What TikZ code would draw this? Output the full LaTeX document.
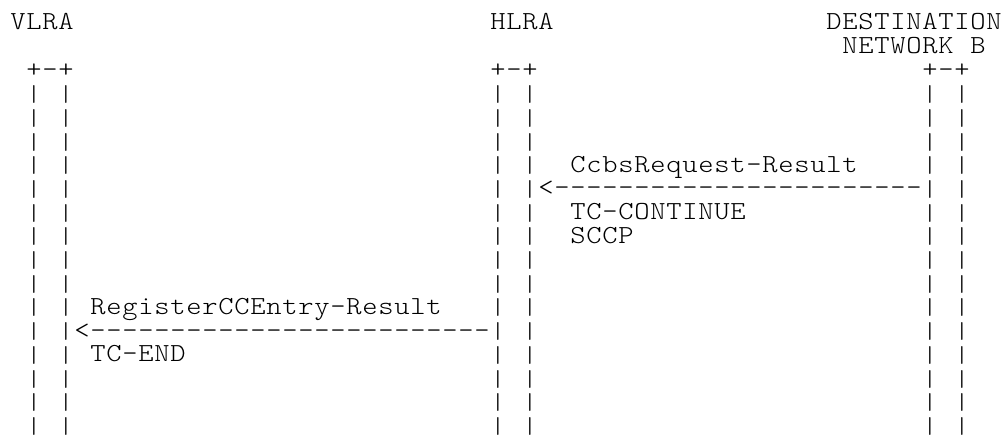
\documentclass[tikz,border=0pt]{standalone}
\usepackage{fontspec}
\usepackage{graphicx}
\newfontfamily\asciifont{lmmonolt10-regular.otf}
\ExplSyntaxOn
\NewDocumentCommand\cells{m}{\tl_map_inline:nn{#1}{\makebox[16pt]{\scalebox{1.12}[1]{##1}}}}
\ExplSyntaxOff
\newcommand\vbar{\makebox[16pt]{\resizebox*{\width}{18pt}{|}}}
\begin{document}
\begin{tikzpicture}[x=1pt,y=1pt,
  txt/.style={font=\asciifont\fontsize{26pt}{26pt}\selectfont,
    inner sep=0pt, outer sep=0pt, anchor=base west, text=black},
  bar/.style={txt, anchor=south west}]
\def\cw{16}
\def\lh{23.7}
\useasboundingbox (0,0) rectangle (1005,438);
% headers
\node[txt] (vlra)  at ({10+\cw*0},{408-\lh*0}) {\cells{VLRA}};
\node[txt] (hlra)  at ({10+\cw*30},{408-\lh*0}) {\cells{HLRA}};
\node[txt] (dest)  at ({10+\cw*51},{408-\lh*0}) {\cells{DESTINATION}};
\node[txt] (destb) at ({10+\cw*52},{408-\lh*1}) {\cells{NETWORK~B}};
% tops of lifelines
\node[txt] (topv) at ({10+\cw*1},{408-\lh*2}) {\cells{+-+}};
\node[txt] (toph) at ({10+\cw*30},{408-\lh*2}) {\cells{+-+}};
\node[txt] (topd) at ({10+\cw*57},{408-\lh*2}) {\cells{+-+}};
% lifelines
\foreach \r in {3,...,17}{
  \foreach \c in {1,3,30,32,57,59}{
    \node[bar] (l-\c-\r) at ({10+\cw*\c},{408-\lh*\r-2.5}) {\vbar};
  }
}
% message 1
\node[txt] (m1)  at ({10+\cw*35},{408-\lh*6}) {\cells{CcbsRequest-Result}};
\node[txt] (a1)  at ({10+\cw*33},{408-\lh*7}) {\cells{<-----------------------}};
\node[txt] (m1b) at ({10+\cw*35},{408-\lh*8}) {\cells{TC-CONTINUE}};
\node[txt] (m1c) at ({10+\cw*35},{408-\lh*9}) {\cells{SCCP}};
% message 2
\node[txt] (m2)  at ({10+\cw*5},{408-\lh*12}) {\cells{RegisterCCEntry-Result}};
\node[txt] (a2)  at ({10+\cw*4},{408-\lh*13}) {\cells{<-------------------------}};
\node[txt] (m2b) at ({10+\cw*5},{408-\lh*14}) {\cells{TC-END}};
\end{tikzpicture}
\end{document}
